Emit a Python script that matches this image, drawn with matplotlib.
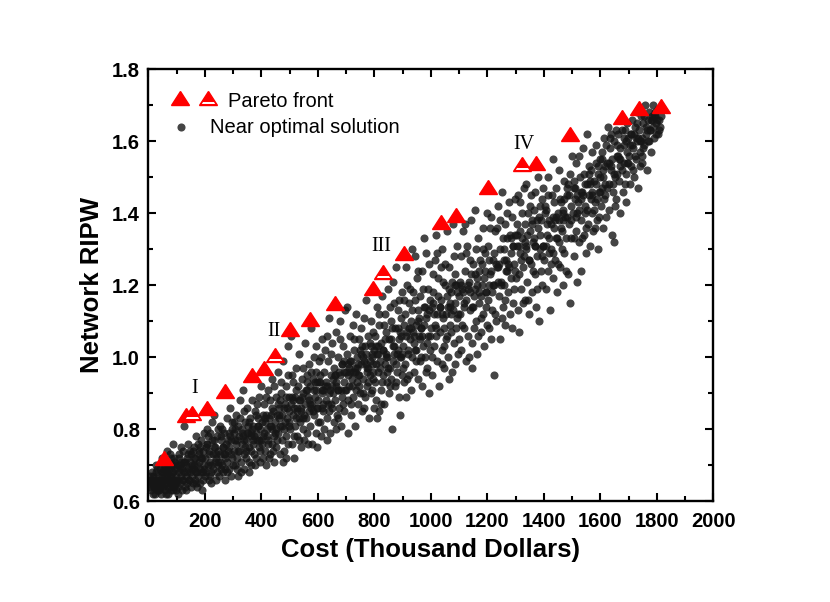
import numpy as np
import matplotlib
matplotlib.use("Agg")
import matplotlib.pyplot as plt
from matplotlib.markers import MarkerStyle
from matplotlib.path import Path
from matplotlib.transforms import Affine2D
from matplotlib.ticker import MultipleLocator, FormatStrFormatter

# Pareto front (filled triangles)
pareto_cost = [55, 135, 206, 270, 367, 408, 502, 573, 662, 796, 905, 1035, 1090,
               1203, 1372, 1493, 1676, 1738, 1814]
pareto_ripw = [0.72, 0.84, 0.858, 0.905, 0.95, 0.97, 1.078, 1.106, 1.152, 1.192,
               1.289, 1.375, 1.395, 1.474, 1.54, 1.62, 1.668, 1.692, 1.698]

# selected designs I..IV (half filled triangles)
picked_cost = [155, 447, 829, 1323]
picked_ripw = [0.845, 1.006, 1.238, 1.537]
picked_names = ["I", "II", "III", "IV"]
name_cost = [165, 443, 823, 1329]
name_ripw = [0.914, 1.071, 1.307, 1.59]

# near optimal solutions (cost, RIPW)
near_optimal = [
    (5,0.64),(8,0.66),(10,0.63),(14,0.65),(18,0.67),(20,0.64),(22,0.62),(25,0.66),(27,0.68),(30,0.65),
    (32,0.63),(35,0.67),(37,0.64),(40,0.69),(42,0.66),(44,0.62),(47,0.65),(49,0.68),(52,0.64),(54,0.70),
    (55,0.66),(58,0.63),(60,0.67),(62,0.65),(64,0.71),(66,0.68),(68,0.64),(70,0.62),(72,0.66),(74,0.69),
    (76,0.73),(78,0.65),(80,0.67),(82,0.63),(84,0.70),(86,0.66),(88,0.68),(90,0.64),(92,0.72),(94,0.66),
    (96,0.69),(98,0.63),(12,0.68),(16,0.62),(28,0.70),(33,0.66),(45,0.64),(50,0.72),(57,0.69),(63,0.62),
    (69,0.70),(75,0.67),(81,0.65),(87,0.63),(93,0.70),(99,0.67),(3,0.65),(15,0.66),(24,0.64),(39,0.63),
    (48,0.67),(61,0.69),(73,0.64),(85,0.68),(95,0.65),(67,0.74),(79,0.72),(89,0.76),
    (102,0.66),(104,0.70),(106,0.64),(108,0.68),(110,0.73),(112,0.65),(114,0.67),(116,0.71),(118,0.63),(120,0.69),
    (122,0.66),(124,0.74),(126,0.68),(128,0.81),(130,0.64),(132,0.70),(134,0.67),(136,0.72),(138,0.65),(140,0.69),
    (142,0.76),(144,0.66),(146,0.71),(148,0.68),(150,0.64),(152,0.73),(154,0.67),(156,0.70),(158,0.65),(160,0.75),
    (162,0.69),(164,0.66),(166,0.72),(168,0.68),(170,0.78),(172,0.64),(174,0.70),(176,0.67),(178,0.74),(180,0.71),
    (182,0.65),(184,0.69),(186,0.77),(188,0.68),(190,0.72),(192,0.66),(194,0.74),(196,0.70),(198,0.79),(105,0.62),
    (117,0.75),(133,0.63),(147,0.74),(163,0.72),(177,0.76),(189,0.63),(199,0.67),(111,0.69),(125,0.71),(139,0.73),
    (153,0.69),(167,0.65),(181,0.73),(195,0.68),
    (202,0.72),(205,0.68),(208,0.76),(210,0.70),(213,0.66),(215,0.74),(218,0.79),(220,0.71),(223,0.68),(225,0.82),
    (228,0.73),(230,0.69),(233,0.84),(235,0.75),(238,0.66),(240,0.72),(243,0.78),(245,0.70),(248,0.74),(250,0.67),
    (253,0.81),(255,0.73),(258,0.77),(260,0.70),(263,0.75),(265,0.68),(268,0.79),(270,0.66),(273,0.72),(275,0.76),
    (278,0.83),(280,0.71),(283,0.74),(285,0.69),(288,0.78),(290,0.86),(293,0.73),(295,0.80),(298,0.70),(204,0.75),
    (212,0.78),(222,0.65),(232,0.77),(242,0.68),(252,0.71),(262,0.80),(272,0.69),(282,0.77),(292,0.67),(207,0.80),
    (217,0.67),(227,0.77),(237,0.71),(247,0.80),(257,0.69),(267,0.73),(277,0.68),(287,0.75),(297,0.82),
    (302,0.74),(305,0.79),(307,0.70),(310,0.76),(312,0.84),(315,0.72),(317,0.67),(320,0.78),(322,0.74),(325,0.88),
    (327,0.71),(330,0.80),(332,0.76),(334,0.91),(337,0.73),(340,0.69),(342,0.82),(345,0.77),(347,0.74),(350,0.86),
    (352,0.79),(355,0.71),(357,0.75),(360,0.83),(362,0.78),(365,0.70),(367,0.88),(370,0.76),(372,0.81),(375,0.73),
    (377,0.85),(380,0.79),(382,0.72),(385,0.77),(387,0.83),(390,0.75),(392,0.89),(395,0.80),(397,0.71),(399,0.92),
    (304,0.82),(314,0.69),(324,0.83),(336,0.78),(344,0.72),(354,0.81),(364,0.74),(374,0.78),(384,0.87),(394,0.74),
    (308,0.77),(318,0.81),(328,0.68),(338,0.85),(348,0.79),(358,0.68),(368,0.80),(378,0.70),(388,0.81),(398,0.77),
    (402,0.76),(404,0.82),(406,0.72),(409,0.87),(411,0.79),(413,0.74),(416,0.84),(418,0.70),(420,0.80),(423,0.91),
    (425,0.77),(427,0.83),(430,0.73),(432,0.88),(434,0.81),(437,0.76),(439,0.94),(441,0.85),(444,0.78),(446,0.71),
    (448,0.82),(451,0.89),(453,0.75),(455,0.84),(458,0.79),(460,0.96),(462,0.86),(465,0.73),(467,0.81),(469,0.90),
    (472,0.77),(474,0.84),(476,0.99),(479,0.80),(481,0.74),(483,0.87),(486,0.92),(488,0.78),(490,0.83),(493,1.03),
    (495,0.76),(497,0.89),(499,0.81),(407,0.78),(417,0.89),(426,0.72),(436,0.86),(445,0.92),(456,0.77),(466,0.88),
    (475,0.71),(485,0.82),(494,0.95),(412,0.83),(422,0.76),(431,0.81),(442,0.74),(452,0.80),(461,0.83),(471,0.93),
    (480,0.86),(489,0.72),(498,0.85),
    (502,0.80),(504,1.06),(506,0.87),(509,0.76),(511,0.93),(513,0.84),(516,0.72),(518,0.89),(520,0.81),(523,0.97),
    (525,0.86),(527,0.78),(530,0.92),(532,0.83),(534,1.01),(537,0.88),(539,0.75),(541,0.85),(544,0.94),(546,0.80),
    (548,0.90),(551,0.77),(553,0.87),(555,1.04),(558,0.83),(560,0.95),(562,0.79),(565,0.89),(567,0.85),(569,0.98),
    (572,0.81),(574,0.92),(576,1.08),(579,0.87),(581,0.76),(583,0.94),(586,0.84),(588,1.00),(590,0.89),(593,0.79),
    (595,0.96),(597,0.86),(599,0.82),(507,0.95),(517,0.78),(528,0.85),(538,0.82),(547,0.97),(557,0.91),(566,0.76),
    (577,0.96),(587,0.91),(596,0.75),(512,0.88),(522,0.91),(533,0.77),(543,0.89),(552,0.84),(563,0.93),(573,0.87),
    (582,0.85),(592,1.03),(598,0.93),
    (602,0.88),(604,0.99),(607,0.82),(609,0.93),(611,0.78),(614,1.05),(616,0.90),(618,0.85),(621,0.96),(623,0.80),
    (625,1.02),(628,0.88),(630,0.93),(632,0.83),(635,0.99),(637,0.87),(639,1.11),(642,0.91),(644,0.79),(646,0.95),
    (649,0.86),(651,1.04),(653,0.90),(656,0.82),(658,0.97),(660,0.88),(663,1.07),(665,0.93),(667,0.84),(670,1.00),
    (672,0.91),(674,0.86),(677,1.10),(679,0.95),(681,0.81),(684,0.98),(686,0.89),(688,1.03),(691,0.93),(693,0.85),
    (695,1.13),(698,0.96),(606,0.95),(615,0.86),(626,0.92),(634,0.77),(645,1.01),(654,0.94),(664,0.80),(675,0.96),
    (683,0.91),(694,0.99),(612,1.00),(620,0.91),(631,1.06),(641,0.85),(650,0.92),(661,0.95),(671,0.83),(680,1.05),
    (690,0.87),(699,0.91),
    (702,1.01),(704,1.14),(707,0.88),(709,0.97),(711,0.92),(714,1.06),(716,0.84),(718,0.99),(721,0.94),(723,1.09),
    (725,0.89),(728,1.02),(730,0.96),(732,0.81),(735,1.12),(737,0.93),(739,1.00),(742,0.87),(744,1.05),(746,0.95),
    (749,0.90),(751,1.08),(753,0.98),(756,0.85),(758,1.03),(760,0.94),(763,1.11),(765,0.99),(767,0.89),(769,1.16),
    (772,1.01),(774,0.92),(776,1.06),(779,0.97),(781,0.83),(783,1.04),(786,0.95),(788,1.10),(790,1.00),(793,0.91),
    (795,1.07),(797,0.98),(799,0.86),(706,0.79),(713,0.99),(724,0.96),(734,0.91),(743,0.98),(754,1.01),(764,0.86),
    (773,0.97),(784,0.99),(794,0.94),(705,0.95),(719,0.87),(729,1.05),(738,0.97),(748,1.02),(759,0.90),(768,1.03),
    (778,0.93),(789,0.90),(798,1.02),
    (802,0.93),(804,1.06),(807,0.88),(809,1.01),(811,1.14),(814,0.96),(816,0.85),(818,1.09),(821,0.99),(823,0.91),
    (825,1.04),(828,1.17),(830,0.95),(832,1.02),(835,0.87),(837,1.12),(839,0.98),(842,1.07),(844,0.93),(846,1.00),
    (849,1.19),(851,0.90),(853,1.05),(856,0.97),(858,1.10),(860,0.94),(863,0.80),(865,1.03),(867,0.99),(870,1.15),
    (872,0.92),(874,1.08),(876,1.25),(879,1.01),(881,0.96),(883,1.13),(886,0.89),(888,1.05),(890,1.00),(892,0.84),
    (895,1.11),(897,0.95),(899,1.18),(805,0.98),(815,1.12),(826,0.93),(836,1.05),(845,0.96),(855,1.14),(864,1.08),
    (875,0.98),(885,1.02),(894,1.06),(812,1.03),(822,0.87),(833,1.09),(843,1.01),(854,0.92),(866,1.21),(877,0.93),
    (887,1.16),(896,1.00),(808,0.83),
    (902,1.03),(904,0.93),(907,1.12),(909,0.98),(911,0.89),(914,1.07),(916,1.20),(918,1.01),(921,0.95),(923,1.15),
    (925,1.05),(928,0.91),(930,1.10),(933,1.30),(935,1.00),(937,1.18),(940,1.04),(942,0.96),(944,1.28),(947,1.09),
    (949,1.02),(951,1.22),(954,0.94),(956,1.13),(958,1.06),(961,0.99),(963,1.17),(965,1.08),(968,0.92),(970,1.24),
    (972,1.03),(975,1.14),(977,1.33),(979,1.00),(982,1.29),(984,1.11),(986,0.97),(989,1.19),(991,1.06),(993,0.90),
    (996,1.16),(998,1.02),(906,1.16),(915,0.94),(926,1.19),(936,1.07),(946,0.99),(955,1.24),(966,1.00),(974,1.09),
    (985,1.04),(995,1.26),(903,0.97),(913,1.25),(922,1.08),(932,1.13),(943,1.16),(953,1.10),(962,1.05),(973,1.19),
    (983,0.96),(992,1.13),
    (1002,1.08),(1005,0.95),(1008,1.18),(1011,1.03),(1014,1.27),(1017,1.34),(1020,1.12),(1023,0.99),(1026,1.22),(1029,0.92),
    (1032,1.07),(1035,1.16),(1038,1.02),(1041,1.30),(1044,1.11),(1047,0.97),(1050,1.20),(1053,1.05),(1056,1.35),(1059,1.14),
    (1062,1.00),(1065,1.25),(1068,1.09),(1071,1.18),(1074,0.96),(1077,1.37),(1080,1.13),(1083,1.04),(1086,1.23),(1089,1.08),
    (1092,1.31),(1095,1.01),(1098,1.17),(1004,1.14),(1013,1.09),(1022,1.29),(1031,1.14),(1040,0.98),(1049,1.26),(1058,1.06),
    (1067,1.15),(1076,1.21),(1085,0.98),(1094,1.11),(1009,1.23),(1018,1.06),(1027,1.17),(1036,1.25),(1045,1.03),(1054,1.12),
    (1063,1.19),(1072,1.07),(1081,1.28),(1090,1.20),(1099,1.05),(1003,1.00),(1043,1.21),(1064,0.94),(1087,1.15),
    (1102,1.12),(1105,1.28),(1108,1.02),(1111,1.19),(1114,1.35),(1117,1.08),(1120,1.24),(1123,0.99),(1126,1.16),(1129,1.31),
    (1132,1.06),(1135,1.21),(1138,1.13),(1141,1.38),(1144,1.04),(1147,0.97),(1150,1.26),(1153,1.17),(1156,1.41),(1159,1.10),
    (1162,1.22),(1165,1.01),(1168,1.33),(1171,1.15),(1174,1.27),(1177,1.07),(1180,1.20),(1183,1.36),(1186,1.12),(1189,1.03),
    (1192,1.29),(1195,1.18),(1198,1.40),(1106,1.20),(1116,1.15),(1125,1.29),(1134,1.00),(1143,1.23),(1152,1.08),(1161,1.30),
    (1170,1.24),(1179,1.11),(1188,1.22),(1197,1.09),(1110,1.09),(1121,1.37),(1131,1.19),(1140,1.27),(1149,1.14),(1158,1.19),
    (1167,1.06),(1176,1.17),(1185,1.30),(1194,1.14),
    (1201,1.16),(1204,1.31),(1207,1.08),(1210,1.23),(1213,1.39),(1216,1.13),(1219,1.27),(1222,0.95),(1225,1.20),(1228,1.35),
    (1231,1.10),(1234,1.25),(1237,1.42),(1240,1.17),(1243,1.05),(1246,1.30),(1249,1.21),(1252,1.46),(1255,1.14),(1258,1.27),
    (1261,1.37),(1264,1.09),(1267,1.24),(1270,1.33),(1273,1.18),(1276,1.43),(1279,1.12),(1282,1.29),(1285,1.22),(1288,1.39),
    (1291,1.15),(1294,1.26),(1297,1.34),(1205,1.20),(1214,1.05),(1224,1.29),(1233,1.36),(1242,1.26),(1251,1.11),(1260,1.20),
    (1269,1.40),(1278,1.25),(1287,1.08),(1296,1.19),(1209,1.36),(1218,1.18),(1227,1.12),(1236,1.21),(1245,1.38),(1254,1.33),
    (1263,1.16),(1272,1.26),(1281,1.34),(1290,1.31),(1299,1.44),
    (1302,1.22),(1305,1.37),(1308,1.13),(1311,1.07),(1314,1.29),(1317,1.43),(1320,1.19),(1323,1.33),(1326,1.25),(1329,1.47),
    (1332,1.16),(1335,1.48),(1338,1.30),(1341,1.21),(1344,1.40),(1347,1.12),(1350,1.35),(1353,1.26),(1356,1.45),(1359,1.18),
    (1362,1.32),(1365,1.41),(1368,1.23),(1371,1.14),(1374,1.38),(1377,1.28),(1380,1.50),(1383,1.10),(1386,1.34),(1389,1.24),
    (1392,1.44),(1395,1.20),(1398,1.31),(1304,1.31),(1313,1.23),(1322,1.40),(1331,1.28),(1340,1.34),(1349,1.27),(1358,1.38),
    (1367,1.31),(1376,1.19),(1385,1.42),(1394,1.28),(1307,1.45),(1316,1.35),(1325,1.15),(1334,1.37),(1343,1.16),(1352,1.42),
    (1361,1.24),(1370,1.46),(1379,1.36),(1388,1.30),(1397,1.47),
    (1401,1.27),(1404,1.42),(1407,1.19),(1410,1.34),(1413,1.50),(1416,1.24),(1419,1.38),(1422,1.13),(1425,1.30),(1428,1.45),
    (1431,1.22),(1434,1.55),(1437,1.36),(1440,1.27),(1443,1.47),(1446,1.18),(1449,1.40),(1452,1.32),(1455,1.52),(1458,1.25),
    (1461,1.43),(1464,1.35),(1467,1.20),(1470,1.49),(1473,1.29),(1476,1.39),(1479,1.33),(1482,1.45),(1485,1.23),(1488,1.37),
    (1491,1.51),(1494,1.15),(1497,1.42),(1500,1.56),(1406,1.31),(1415,1.45),(1424,1.37),(1433,1.29),(1442,1.39),(1451,1.26),
    (1460,1.36),(1469,1.41),(1478,1.24),(1487,1.48),(1496,1.33),(1409,1.41),(1418,1.29),(1427,1.26),(1436,1.43),(1445,1.33),
    (1454,1.38),(1463,1.30),(1472,1.44),(1481,1.39),
    (1503,1.40),(1506,1.28),(1509,1.47),(1512,1.35),(1515,1.54),(1518,1.21),(1521,1.43),(1524,1.32),(1527,1.50),(1530,1.38),
    (1533,1.24),(1536,1.46),(1539,1.58),(1542,1.34),(1545,1.42),(1548,1.29),(1551,1.62),(1554,1.48),(1557,1.37),(1560,1.53),
    (1563,1.31),(1566,1.44),(1569,1.40),(1572,1.57),(1575,1.35),(1578,1.49),(1581,1.43),(1584,1.59),(1587,1.38),(1590,1.51),
    (1593,1.30),(1596,1.46),(1599,1.55),(1505,1.49),(1514,1.39),(1523,1.56),(1532,1.44),(1541,1.51),(1550,1.36),(1559,1.45),
    (1568,1.52),(1577,1.41),(1586,1.48),(1595,1.39),(1508,1.33),(1517,1.45),(1526,1.41),(1535,1.33),(1544,1.48),(1553,1.41),
    (1562,1.49),(1571,1.46),(1580,1.36),(1589,1.44),(1598,1.50),
    (1602,1.42),(1605,1.57),(1608,1.36),(1611,1.50),(1614,1.61),(1617,1.45),(1620,1.39),(1623,1.54),(1626,1.64),(1629,1.48),
    (1632,1.41),(1635,1.58),(1638,1.52),(1641,1.34),(1644,1.46),(1647,1.32),(1650,1.60),(1653,1.50),(1656,1.44),(1659,1.56),
    (1662,1.62),(1665,1.49),(1668,1.40),(1671,1.55),(1674,1.66),(1677,1.52),(1680,1.46),(1683,1.59),(1686,1.63),(1689,1.51),
    (1692,1.43),(1695,1.57),(1698,1.61),(1606,1.47),(1615,1.53),(1624,1.47),(1633,1.61),(1642,1.55),(1651,1.42),(1660,1.51),
    (1669,1.58),(1678,1.63),(1687,1.48),(1696,1.54),(1612,1.44),(1621,1.59),(1639,1.62),(1648,1.51),(1657,1.63),(1666,1.55),
    (1684,1.54),(1693,1.65),
    (1701,1.56),(1704,1.48),(1707,1.62),(1710,1.53),(1713,1.66),(1716,1.58),(1719,1.50),(1722,1.64),(1725,1.55),(1728,1.68),
    (1731,1.60),(1734,1.47),(1737,1.63),(1740,1.57),(1743,1.67),(1746,1.61),(1749,1.54),(1752,1.65),(1755,1.59),(1758,1.70),
    (1761,1.62),(1764,1.52),(1767,1.66),(1770,1.60),(1773,1.68),(1776,1.63),(1779,1.57),(1782,1.67),(1785,1.70),(1788,1.64),
    (1791,1.61),(1794,1.68),(1797,1.65),(1706,1.59),(1718,1.62),(1730,1.65),(1742,1.60),(1754,1.67),(1766,1.63),(1778,1.66),
    (1790,1.67),(1715,1.52),(1727,1.61),(1739,1.53),(1751,1.58),
    (1800,1.66),(1804,1.69),(1808,1.63),(1811,1.64),(1814,1.67),(1803,1.62),(1807,1.66),
    # dense core of the cloud
    (6,0.67),(19,0.64),(31,0.69),(43,0.65),(56,0.68),(71,0.66),(83,0.70),(97,0.65),(11,0.66),(36,0.63),(65,0.67),(91,0.71),
    (107,0.72),(119,0.66),(131,0.71),(143,0.66),(157,0.74),(169,0.68),(183,0.75),(197,0.69),(113,0.70),(137,0.68),(161,0.70),(187,0.72),
    (209,0.76),(221,0.70),(234,0.75),(246,0.71),(259,0.78),(271,0.73),(284,0.79),(296,0.72),(216,0.73),(241,0.73),(266,0.75),(291,0.77),
    (306,0.80),(319,0.74),(331,0.79),(343,0.75),(356,0.82),(369,0.77),(381,0.84),(393,0.77),(313,0.77),(339,0.77),(363,0.79),(389,0.81),
    (405,0.84),(419,0.78),(433,0.84),(447,0.79),(459,0.87),(473,0.81),(487,0.89),(499,0.82),(414,0.82),(438,0.80),(464,0.84),(492,0.86),
    (508,0.89),(521,0.83),(535,0.88),(549,0.83),(561,0.91),(575,0.86),(589,0.93),(598,0.86),(515,0.86),(542,0.86),(568,0.88),(594,0.91),
    (605,0.93),(619,0.87),(633,0.92),(647,0.87),(659,0.95),(673,0.91),(687,0.98),(697,0.91),(613,0.91),(640,0.90),(666,0.92),(692,0.96),
    (708,0.98),(720,0.92),(733,0.97),(747,0.92),(761,1.00),(775,0.96),(787,1.03),(796,0.96),(715,0.96),(741,0.95),(770,0.98),(792,1.01),
    (806,1.03),(819,0.97),(831,1.02),(847,0.97),(859,1.05),(871,1.01),(884,1.08),(898,1.01),(813,1.01),(840,1.00),(868,1.03),(891,1.07),
    (905,1.09),(919,1.02),(931,1.08),(945,1.02),(957,1.11),(969,1.06),(981,1.14),(997,1.06),(912,1.06),(939,1.06),(964,1.08),(988,1.12),
    (1006,1.15),(1019,1.08),(1033,1.14),(1046,1.08),(1057,1.17),(1070,1.12),(1084,1.20),(1097,1.12),(1012,1.12),(1039,1.12),(1066,1.14),(1093,1.18),
    (1104,1.21),(1118,1.14),(1130,1.20),(1145,1.14),(1157,1.23),(1169,1.18),(1182,1.26),(1196,1.18),(1113,1.18),(1139,1.18),(1163,1.20),(1191,1.24),
    (1206,1.27),(1220,1.20),(1232,1.26),(1247,1.20),(1259,1.30),(1271,1.24),(1284,1.33),(1298,1.24),(1212,1.24),(1239,1.25),(1265,1.27),(1292,1.31),
    (1306,1.34),(1318,1.27),(1333,1.32),(1346,1.27),(1357,1.37),(1369,1.31),(1384,1.39),(1396,1.31),(1312,1.31),(1337,1.31),(1364,1.33),(1391,1.38),
    (1405,1.40),(1417,1.33),(1432,1.39),(1444,1.33),(1457,1.44),(1468,1.38),(1483,1.47),(1495,1.38),(1411,1.37),(1439,1.38),(1466,1.40),(1489,1.45),
    (1507,1.47),(1519,1.40),(1531,1.46),(1546,1.40),(1558,1.51),(1570,1.45),(1583,1.54),(1597,1.46),(1511,1.44),(1538,1.45),(1565,1.48),(1592,1.53),
    (1604,1.55),(1618,1.48),(1631,1.54),(1645,1.48),(1658,1.59),(1670,1.53),(1682,1.61),(1697,1.54),(1610,1.52),(1637,1.53),(1663,1.56),(1690,1.60),
    (1709,1.62),(1721,1.56),(1733,1.61),(1748,1.56),(1760,1.64),(1772,1.60),(1784,1.66),(1796,1.62),(1712,1.59),(1745,1.60),(1775,1.63),(1793,1.67),
]
near_cost = np.array([p[0] for p in near_optimal])
near_ripw = np.array([p[1] for p in near_optimal])

plt.rcParams['font.family'] = ['Liberation Sans', 'DejaVu Sans']

fig = plt.figure(figsize=(8.3, 6.02), dpi=100)
ax = fig.add_axes([0.1787, 0.1673, 0.6808, 0.7176])

squash = Affine2D().scale(1.15, 0.92)
tri = MarkerStyle('^', transform=squash)
# white stripe inside the lower part of the "picked" triangles
band_verts = [(-0.62, -0.50), (0.62, -0.50), (0.76, -0.78), (-0.76, -0.78), (-0.62, -0.50)]
band_path = Path(band_verts, [Path.MOVETO, Path.LINETO, Path.LINETO, Path.LINETO, Path.CLOSEPOLY])
band = MarkerStyle(band_path, transform=Affine2D().scale(0.78).scale(1.15, 0.92))

dot_col = '#161616'
ax.scatter(near_cost, near_ripw, s=34, color=dot_col, alpha=0.8, linewidths=0, zorder=2)
ax.plot(pareto_cost, pareto_ripw, ls='none', marker=tri, ms=11, color='red',
        mec='red', mew=1.0, zorder=3)
ax.plot(picked_cost, picked_ripw, ls='none', marker=tri, ms=11, color='red',
        mec='red', mew=1.0, zorder=4)
ax.plot(picked_cost, picked_ripw, ls='none', marker=band, ms=11, mfc='white',
        mec='none', zorder=5)

for nm, cx, cy in zip(picked_names, name_cost, name_ripw):
    ax.text(cx, cy, nm, ha='center', va='center', fontsize=14.5,
            family=['Liberation Serif', 'DejaVu Serif'], zorder=5)

# legend drawn by hand, Origin style
ax.plot([0.0559], [0.934], transform=ax.transAxes, marker=tri, ms=11, color='red',
        mec='red', mew=1.0, clip_on=False)
ax.plot([0.1053], [0.934], transform=ax.transAxes, marker=tri, ms=11, color='red',
        mec='red', mew=1.0, clip_on=False)
ax.plot([0.1053], [0.934], transform=ax.transAxes, marker=band, ms=11, mfc='white',
        mec='none', clip_on=False)
ax.text(0.1406, 0.926, "Pareto front", transform=ax.transAxes, fontsize=14.5,
        ha='left', va='center')
ax.scatter([0.0571], [0.866], transform=ax.transAxes, s=34, color=dot_col,
           alpha=0.8, linewidths=0)
ax.text(0.1088, 0.866, "Near optimal solution", transform=ax.transAxes, fontsize=14.5,
        ha='left', va='center')

ax.set_xlim(0, 2000)
ax.set_ylim(0.6, 1.8)
ax.xaxis.set_major_locator(MultipleLocator(200))
ax.xaxis.set_minor_locator(MultipleLocator(100))
ax.yaxis.set_major_locator(MultipleLocator(0.2))
ax.yaxis.set_minor_locator(MultipleLocator(0.1))
ax.yaxis.set_major_formatter(FormatStrFormatter('%.1f'))

ax.tick_params(which='both', direction='in', top=True, right=True, width=1.5)
ax.tick_params(which='major', length=6)
ax.tick_params(which='minor', length=3.5)
ax.tick_params(axis='x', which='major', pad=8, labelsize=14.5)
ax.tick_params(axis='y', which='major', pad=6, labelsize=14.5)
for lbl in ax.get_xticklabels() + ax.get_yticklabels():
    lbl.set_fontweight('bold')
for sp in ax.spines.values():
    sp.set_linewidth(1.7)

ax.set_xlabel("Cost (Thousand Dollars)", fontsize=18.5, fontweight='bold', labelpad=5)
ax.set_ylabel("Network RIPW", fontsize=18.5, fontweight='bold', labelpad=6)

fig.savefig("out.png", dpi=100)
